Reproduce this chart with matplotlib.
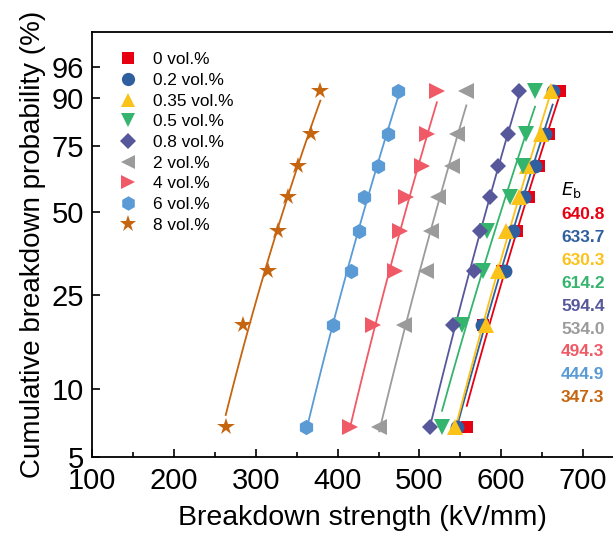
import numpy as np
import matplotlib
matplotlib.use("Agg")
import matplotlib.pyplot as plt
from matplotlib.ticker import FixedLocator, MultipleLocator

plt.rcParams['font.family'] = ['Liberation Sans', 'DejaVu Sans']

# cumulative probability levels (%) of the ranked samples
probs = [6.8, 18.9, 31.0, 43.1, 55.3, 67.4, 79.5, 91.6]

labels = ["0 vol.%", "0.2 vol.%", "0.35 vol.%", "0.5 vol.%", "0.8 vol.%",
          "2 vol.%", "4 vol.%", "6 vol.%", "8 vol.%"]
eb_values = ["640.8", "633.7", "630.3", "614.2", "594.4",
             "534.0", "494.3", "444.9", "347.3"]

# breakdown strength (kV/mm), one list per sample
e_0 = [558, 578, 601, 619, 633.5, 646, 658.5, 671.5]
e_02 = [546, 576.5, 604.5, 614, 628, 641, 653, 663]
e_035 = [544, 581, 595.8, 605.4, 622, 631.8, 648.6, 660.6]
e_05 = [527.7, 552.6, 577.6, 582.9, 610.2, 627, 630.4, 641.4]
e_08 = [513.3, 540.6, 567, 574.2, 586.2, 595.8, 608.8, 622]
e_2 = [450.9, 480.6, 508, 514.2, 522.9, 539.7, 546.4, 557.4]
e_4 = [414.9, 443.7, 470.1, 475.8, 484, 503.7, 509.4, 521.4]
e_6 = [361.6, 394.2, 415.8, 426.4, 431.7, 449.9, 461.4, 473.9]
e_8 = [263.2, 283.8, 315, 326.5, 339.5, 352, 366.9, 378.9]
series = [e_0, e_02, e_035, e_05, e_08, e_2, e_4, e_6, e_8]

colors = ['#e60012', '#2f5f9e', '#fbc21a', '#35b46e', '#57579b',
          '#9b9b9b', '#ef5a66', '#5b9bd5', '#c6650f']
markers = ['s', 'o', '^', 'v', 'D', '<', '>', 'h', '*']
msizes = [9, 10, 11, 11, 8.5, 11, 11, 11, 13]


def weib(p):
    p = np.clip(np.asarray(p, dtype=float), 1e-6, 100 - 1e-6)
    return np.log(-np.log(1 - p / 100.0))


def weib_inv(w):
    return 100.0 * (1 - np.exp(-np.exp(np.asarray(w, dtype=float))))


fig = plt.figure(figsize=(6.13, 5.35), dpi=100)
ax = fig.add_axes([92.3 / 613, 1 - 457.3 / 535, (632 - 92.3) / 613, (457.3 - 32.3) / 535])
ax.set_yscale('function', functions=(weib, weib_inv))

w_probs = weib(probs)
for vals, c, m, ms, lab in zip(series, colors, markers, msizes, labels):
    x = np.array(vals)
    # Weibull fit: W = beta*ln(E) - beta*ln(Eb)
    beta, icpt = np.polyfit(np.log(x), w_probs, 1)
    xf = np.linspace(x.min(), x.max(), 50)
    ax.plot(xf, weib_inv(beta * np.log(xf) + icpt), color=c, lw=1.3, zorder=2)
    ax.plot(x, probs, linestyle='none', marker=m, ms=ms, color=c,
            markeredgewidth=0, label=lab, zorder=3)

ax.set_xlim(100, 760)
ax.set_ylim(5, 99.03)
ax.xaxis.set_major_locator(MultipleLocator(100))
ax.xaxis.set_minor_locator(MultipleLocator(50))
ax.yaxis.set_major_locator(FixedLocator([5, 10, 25, 50, 75, 90, 96]))
ax.yaxis.set_minor_locator(FixedLocator([]))
ax.set_yticklabels(['5', '10', '25', '50', '75', '90', '96'])

ax.tick_params(axis='both', which='major', direction='in', length=6, width=1.2,
               labelsize=21)
ax.tick_params(axis='x', which='major', pad=7)
ax.tick_params(axis='x', which='minor', direction='in', length=3.5, width=1.2)
ax.tick_params(axis='y', pad=6)
for sp in ax.spines.values():
    sp.set_linewidth(1.3)

ax.set_xlabel("Breakdown strength (kV/mm)", fontsize=20.5, labelpad=7)
ax.set_ylabel("Cumulative breakdown probability (%)", fontsize=20, labelpad=4)

ax.legend(loc='upper left', bbox_to_anchor=(119 / 613, 1 - 52 / 535),
          bbox_transform=fig.transFigure, frameon=False, fontsize=12.4,
          handlelength=1.0, handletextpad=1.0, labelspacing=0.33,
          borderpad=0, borderaxespad=0, markerscale=0.95)

fig.text(561 / 613, 1 - 190 / 535, r"$E_{\mathrm{b}}$", fontsize=13,
         ha='left', va='center')
for i, (txt, c) in enumerate(zip(eb_values, colors)):
    fig.text(561 / 613, 1 - (215 + i * 22.8) / 535, txt, color=c,
             fontsize=12.5, fontweight='bold', ha='left', va='center')

fig.savefig("out.png", dpi=100)
